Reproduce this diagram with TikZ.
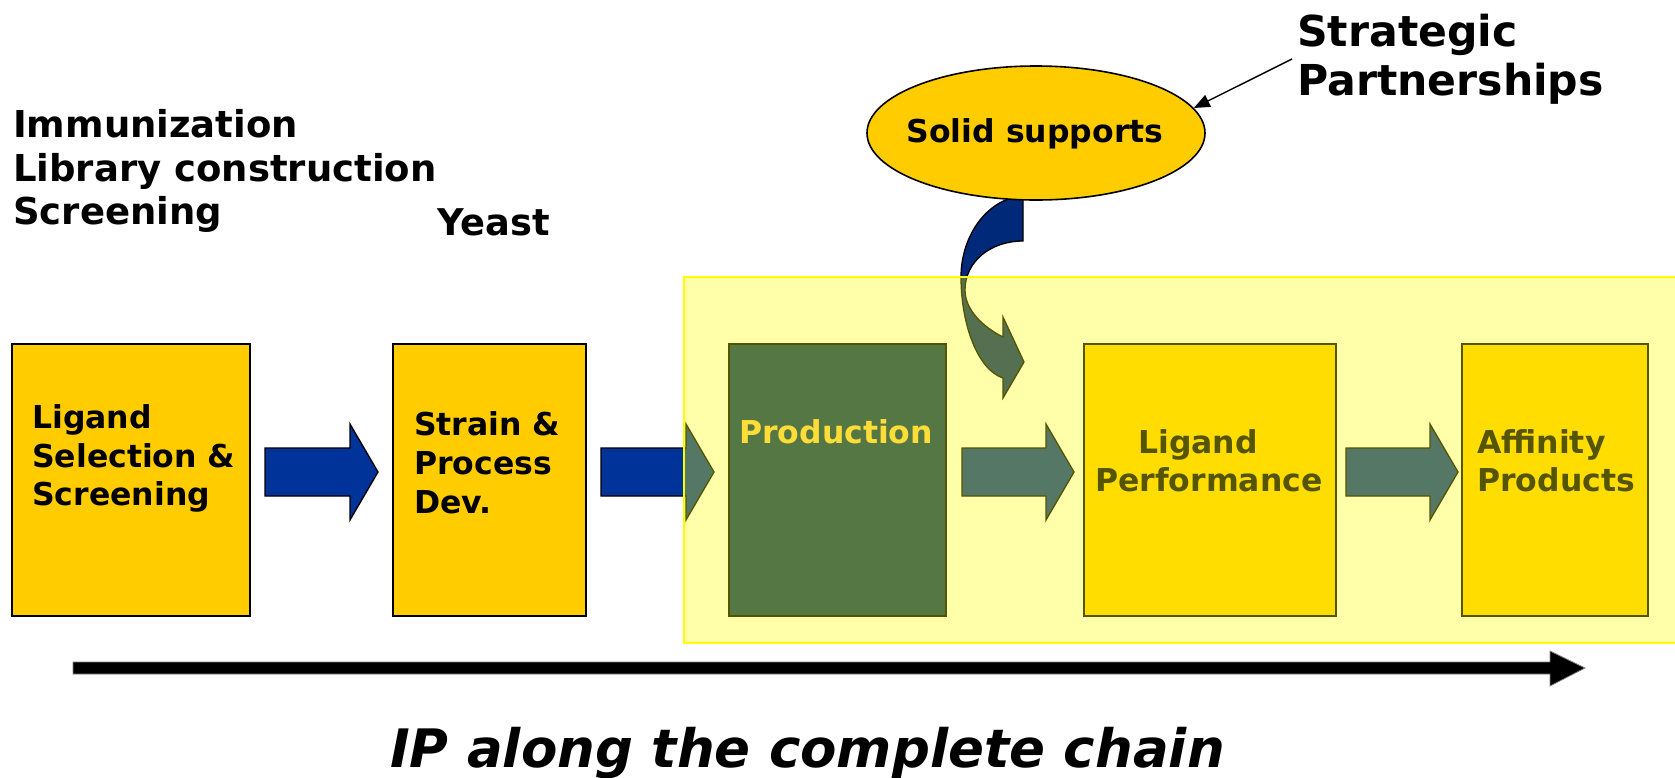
\documentclass[tikz,border=0pt]{standalone}
\usepackage{fontspec}
\setmainfont{DejaVu Sans}
\usetikzlibrary{shapes.geometric,arrows.meta}
\definecolor{boxyellow}{HTML}{FFCC00}
\definecolor{arrblue}{HTML}{003399}
\definecolor{curvblue}{HTML}{00297A}
\definecolor{prodblue}{HTML}{003366}
\definecolor{prodtext}{HTML}{FFCC55}
\definecolor{hlyellow}{HTML}{FFFF00}
\newcommand{\blockarr}[4][arrst]{\draw[#1] (#2,448) -- (#3,448) -- (#3,424) -- (#4,472) -- (#3,520) -- (#3,496) -- (#2,496) -- cycle;}
\begin{document}
\begin{tikzpicture}[x=1pt,y=-1pt,
  boxst/.style={draw=black, line width=1.6, fill=boxyellow, inner sep=0, outer sep=0, minimum height=272, anchor=north west},
  arrst/.style={draw=black, line width=1.3, fill=arrblue, line join=miter},
  txt/.style={anchor=base west, inner sep=0, font=\bfseries\fontsize{31.5}{38}\selectfont},
  lefttxt/.style={anchor=base west, inner sep=0, font=\bfseries\fontsize{37}{44}\selectfont},
  bigtxt/.style={anchor=base west, inner sep=0, font=\bfseries\fontsize{42.6}{48}\selectfont}]
\useasboundingbox[fill=white] (0,0) rectangle (1675,777);

% top-left labels
\node[lefttxt] (l1) at (13,137) {Immunization};
\node[lefttxt] (l2) at (13,181) {Library construction};
\node[lefttxt] (l3) at (13,224) {Screening};
\node[anchor=base west, inner sep=0, font=\bfseries\fontsize{36.8}{42}\selectfont] (yeast) at (437,235) {Yeast};

% boxes
\node[boxst, minimum width=238] (b1) at (12,344) {};
\node[boxst, minimum width=193] (b2) at (393,344) {};
\node[boxst, minimum width=217, fill=prodblue] (prod) at (729,344) {};
\node[boxst, minimum width=252] (perf) at (1084,344) {};
\node[boxst, minimum width=186] (aff) at (1462,344) {};

% box texts
\node[txt] (b1a) at (32,428) {Ligand};
\node[txt] (b1b) at (32,467) {Selection \&};
\node[txt] (b1c) at (32,505) {Screening};
\node[txt] (b2a) at (414,435) {Strain \&};
\node[txt] (b2b) at (414,474) {Process};
\node[txt] (b2c) at (414,513) {Dev.};
\node[txt, text=prodtext] (pa) at (739,443) {Production};
\node[txt] (pfa) at (1138,453) {Ligand};
\node[txt] (pfb) at (1095,491) {Performance};
\node[txt] (afa) at (1477,453) {Affinity};
\node[txt] (afb) at (1477,491) {Products};

% block arrows between boxes
\blockarr{265}{350}{378}
\blockarr{601}{686}{714}
\blockarr{962}{1046}{1074}
\blockarr{1346}{1430}{1458}

% curved arrow from the ellipse
\draw[draw=black, line width=1.3, fill=curvblue, line join=miter]
  (1023,196) .. controls (988,198) and (961,235) .. (961,277)
  .. controls (961,325) and (978,370) .. (1003,378)
  -- (1003,398) -- (1024,362) -- (1003,317) -- (1003,337)
  .. controls (983,327) and (965,310) .. (965,290)
  .. controls (965,262) and (990,241) .. (1023,241) -- cycle;

% ellipse
\node[ellipse, draw=black, line width=1.6, fill=boxyellow, minimum width=338, minimum height=134, inner sep=0] (ss) at (1036,133) {};
\node[anchor=base, inner sep=0, font=\bfseries\fontsize{31.5}{38}\selectfont] (sst) at (1035,142) {Solid supports};

% strategic partnerships
\node[bigtxt] (sp1) at (1297,46) {Strategic};
\node[bigtxt] (sp2) at (1297,95) {Partnerships};
\coordinate (ptr) at (1292,59);
\draw[line width=1.4, -{Triangle[length=16, width=13]}] (ptr) -- (ss.9);

% translucent highlight region
\fill[hlyellow, fill opacity=0.333] (684,277) rectangle (1690,643);
\draw[hlyellow, line width=2] (1690,277) -- (684,277) -- (684,643) -- (1690,643);

% long timeline arrow
\draw[fill=black, draw=gray, line width=0.8] (73,662) -- (1550,662) -- (1550,651) -- (1585,668) -- (1550,686) -- (1550,674) -- (73,674) -- cycle;

\node[anchor=base west, inner sep=0, font=\bfseries\itshape\fontsize{53}{60}\selectfont] (ip) at (390,767) {IP along the complete chain};
\end{tikzpicture}
\end{document}
